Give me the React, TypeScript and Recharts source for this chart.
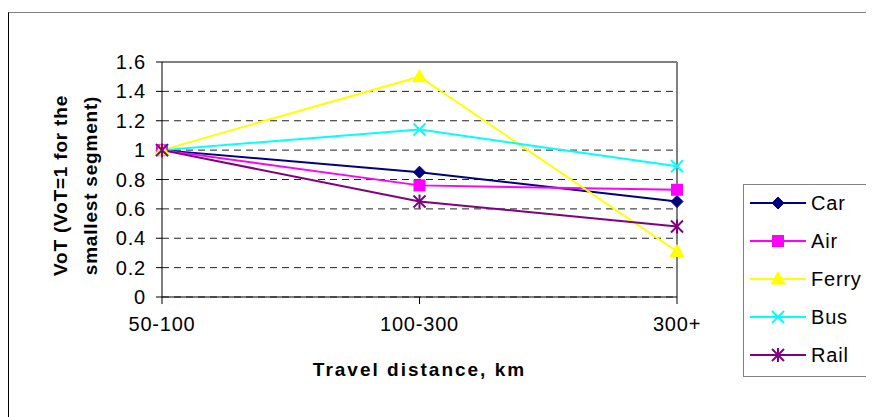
import React from 'react';
import { LineChart, Line, XAxis, YAxis, CartesianGrid, ReferenceLine, Legend } from 'recharts';

const categories = ['50-100', '100-300', '300+'];
const carValues = [1, 0.85, 0.65];
const airValues = [1, 0.76, 0.73];
const ferryValues = [1, 1.5, 0.31];
const busValues = [1, 1.14, 0.89];
const railValues = [1, 0.65, 0.48];
const yTicks = [0, 0.2, 0.4, 0.6, 0.8, 1, 1.2, 1.4, 1.6];
const xTitle = 'Travel distance, km';
const yTitleLines = ['VoT (VoT=1 for the', 'smallest segment)'];

const seriesDefs = [
  { key: 'Car', values: carValues, color: '#000080', shape: 'diamond' },
  { key: 'Air', values: airValues, color: '#FF00FF', shape: 'square' },
  { key: 'Ferry', values: ferryValues, color: '#FFFF00', shape: 'triangle' },
  { key: 'Bus', values: busValues, color: '#00FFFF', shape: 'x' },
  { key: 'Rail', values: railValues, color: '#800080', shape: 'star' },
];

const data = categories.map((c, i) => {
  const row: any = { cat: c };
  seriesDefs.forEach((s) => { row[s.key] = s.values[i]; });
  return row;
});

const FONT = '"Liberation Sans", Arial, sans-serif';

function Marker({ shape, cx, cy, color }: { shape: string; cx: number; cy: number; color: string }) {
  if (shape === 'diamond') {
    return <polygon points={`${cx},${cy - 6} ${cx + 6},${cy} ${cx},${cy + 6} ${cx - 6},${cy}`} fill={color} stroke={color} />;
  }
  if (shape === 'square') {
    return <rect x={cx - 6} y={cy - 6} width={12} height={12} fill={color} />;
  }
  if (shape === 'triangle') {
    return <polygon points={`${cx},${cy - 7} ${cx + 7},${cy + 5} ${cx - 7},${cy + 5}`} fill={color} stroke={color} />;
  }
  if (shape === 'x') {
    return (
      <g stroke={color} strokeWidth={2}>
        <line x1={cx - 6} y1={cy - 6} x2={cx + 6} y2={cy + 6} />
        <line x1={cx - 6} y1={cy + 6} x2={cx + 6} y2={cy - 6} />
      </g>
    );
  }
  return (
    <g stroke={color} strokeWidth={2}>
      <line x1={cx - 6} y1={cy - 6} x2={cx + 6} y2={cy + 6} />
      <line x1={cx - 6} y1={cy + 6} x2={cx + 6} y2={cy - 6} />
      <line x1={cx} y1={cy - 7} x2={cx} y2={cy + 7} />
    </g>
  );
}

function LegendBox() {
  return (
    <div
      style={{
        position: 'relative',
        width: 127,
        height: 193,
        border: '1px solid #808080',
        boxSizing: 'border-box',
        background: '#fff',
        fontFamily: FONT,
        fontSize: 20,
        letterSpacing: 0.8,
      }}
    >
      {seriesDefs.map((s, i) => (
        <div key={s.key} style={{ position: 'absolute', left: 0, top: 18 + i * 38 - 12, height: 24, width: 125 }}>
          <svg width={64} height={24} style={{ position: 'absolute', left: 0, top: 0 }}>
            <line x1={6} y1={12} x2={62} y2={12} stroke={s.color} strokeWidth={2} />
            <Marker shape={s.shape} cx={34} cy={12} color={s.color} />
          </svg>
          <span style={{ position: 'absolute', left: 67, top: 1, lineHeight: '22px', color: '#000' }}>{s.key}</span>
        </div>
      ))}
    </div>
  );
}

const tickStyle = { fill: '#000', fontSize: 20, fontFamily: FONT, letterSpacing: 0.8 };

export default function App() {
  return (
    <div style={{ marginTop: 4, width: 866, height: 405, borderTop: '1px solid #808080', borderLeft: '1px solid #000', position: 'relative' }}>
      <LineChart
        width={865}
        height={404}
        data={data}
        margin={{ top: 49, right: 197, bottom: 30, left: 13 }}
      >
        <CartesianGrid horizontal vertical={false} stroke="#222" strokeDasharray="7 5" />
        <ReferenceLine y={1.6} stroke="#808080" strokeWidth={2} />
        <ReferenceLine x="300+" stroke="#808080" strokeWidth={2} />
        <XAxis
          dataKey="cat"
          type="category"
          height={90}
          stroke="#000"
          tickSize={7}
          tickMargin={13}
          tick={tickStyle}
          label={{
            content: (props: any) => {
              const vb = props.viewBox;
              return (
                <text
                  x={vb.x + vb.width / 2}
                  y={vb.y + 72}
                  textAnchor="middle"
                  dominantBaseline="central"
                  fontFamily={FONT}
                  fontSize={19}
                  fontWeight="bold"
                  letterSpacing={2}
                  fill="#000"
                >
                  {xTitle}
                </text>
              );
            },
          }}
        />
        <YAxis
          type="number"
          domain={[0, 1.6]}
          ticks={yTicks}
          interval={0}
          width={140}
          stroke="#000"
          tickSize={6}
          tickMargin={10}
          tick={tickStyle}
          tickFormatter={(v: number) => String(v)}
          label={{
            content: (props: any) => {
              const vb = props.viewBox;
              const cy = vb.y + vb.height / 2 + 6;
              return (
                <g>
                  {yTitleLines.map((t, i) => {
                    const x = vb.x + 38 + i * 30;
                    return (
                      <text
                        key={t}
                        x={x}
                        y={cy}
                        transform={`rotate(-90, ${x}, ${cy})`}
                        textAnchor="middle"
                        dominantBaseline="central"
                        fontFamily={FONT}
                        fontSize={19}
                        fontWeight="bold"
                        letterSpacing={0.8}
                        fill="#000"
                      >
                        {t}
                      </text>
                    );
                  })}
                </g>
              );
            },
          }}
        />
        <Legend
          layout="vertical"
          align="center"
          verticalAlign="middle"
          wrapperStyle={{ left: 734, top: 171, width: 127, height: 193 }}
          content={() => <LegendBox />}
        />
        {seriesDefs.map((s) => (
          <Line
            key={s.key}
            dataKey={s.key}
            type="linear"
            stroke={s.color}
            strokeWidth={2}
            isAnimationActive={false}
            dot={(p: any) => (
              <g key={`${s.key}-${p.index}`}>
                <Marker shape={s.shape} cx={p.cx} cy={p.cy} color={s.color} />
              </g>
            )}
            activeDot={false}
          />
        ))}
      </LineChart>
    </div>
  );
}
